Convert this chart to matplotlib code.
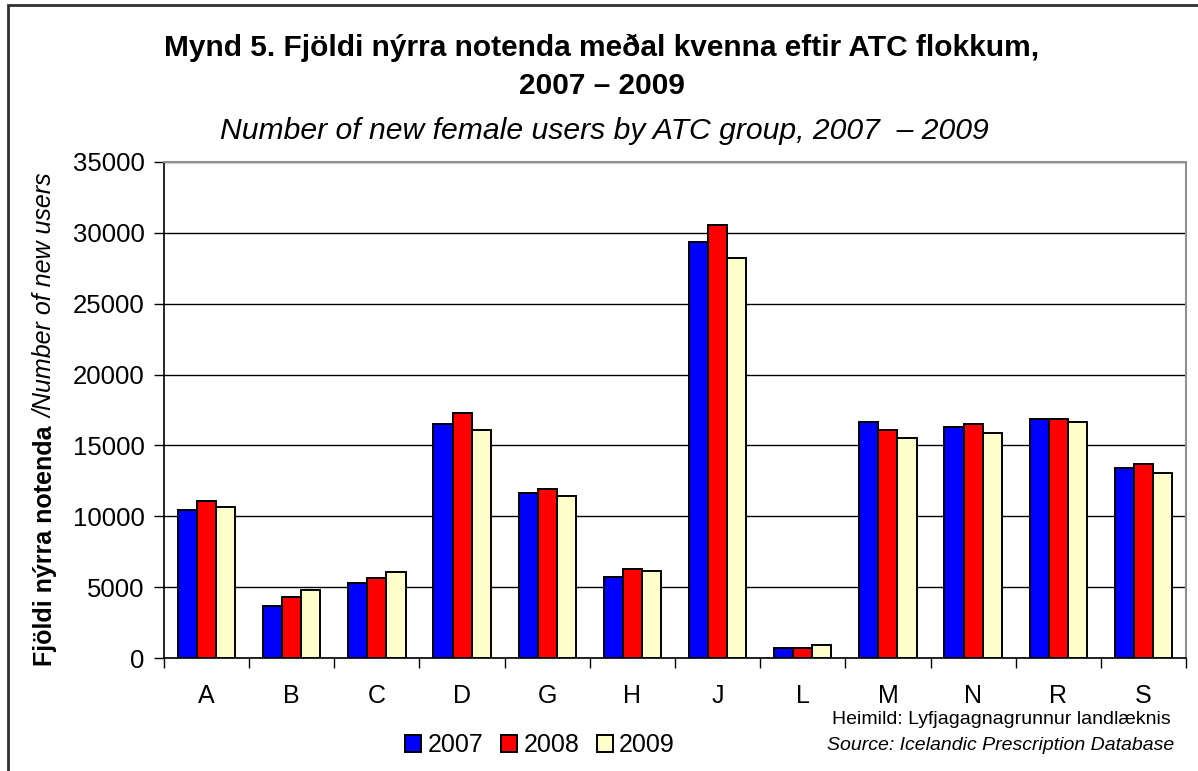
"""Bar chart: new female users by ATC group, 2007-2009."""
import numpy as np
import matplotlib
matplotlib.use("Agg")
import matplotlib.pyplot as plt
from matplotlib.patches import Rectangle

### data
groups = ["A", "B", "C", "D", "G", "H", "J", "L", "M", "N", "R", "S"]
years = ["2007", "2008", "2009"]
users_2007 = [10420, 3670, 5320, 16540, 11620, 5740, 29380, 730, 16650, 16300, 16870, 13390]
users_2008 = [11080, 4330, 5620, 17310, 11950, 6280, 30580, 730, 16090, 16540, 16870, 13690]
users_2009 = [10660, 4780, 6090, 16090, 11410, 6160, 28210, 940, 15550, 15880, 16650, 13060]
yticks = [0, 5000, 10000, 15000, 20000, 25000, 30000, 35000]

colors = ["#0000FF", "#FF0000", "#FFFFCC"]

plt.rcParams["font.family"] = ["Liberation Sans", "DejaVu Sans"]

W, H = 1198, 771
fig = plt.figure(figsize=(W / 100, H / 100), dpi=100)
ax = fig.add_axes([164 / W, 1 - 658 / H, (1186 - 164) / W, (658 - 162) / H])

x = np.arange(len(groups))
bw = 0.225
series = [users_2007, users_2008, users_2009]
for i, (vals, c, lab) in enumerate(zip(series, colors, years)):
    ax.bar(x + (i - 1) * bw, vals, width=bw, color=c, edgecolor="black",
           linewidth=1.4, label=lab, zorder=3)

ax.set_xlim(-0.5, len(groups) - 0.5)
ax.set_ylim(0, 35000)
ax.set_yticks(yticks)
ax.set_yticklabels([str(v) for v in yticks], fontsize=18.5)
ax.yaxis.grid(True, color="black", linewidth=1.0, zorder=0)
ax.set_axisbelow(True)
ax.tick_params(axis="y", direction="out", length=7, width=1, pad=7)

# category labels at centres, tick marks between categories
ax.set_xticks(x)
ax.set_xticklabels(groups, fontsize=18)
ax.tick_params(axis="x", which="major", length=0, pad=19)
ax.set_xticks(np.arange(-0.5, len(groups)), minor=True)
ax.tick_params(axis="x", which="minor", direction="out", length=7, width=1)

for s in ["left", "bottom"]:
    ax.spines[s].set_color("black")
    ax.spines[s].set_linewidth(1.2)
for s in ["top", "right"]:
    ax.spines[s].set_color("#909090")
    ax.spines[s].set_linewidth(1.5)

# titles
fig.text(602 / W, 1 - 48 / H, "Mynd 5. Fjöldi nýrra notenda meðal kvenna eftir ATC flokkum,",
         ha="center", va="center", fontsize=21.5, fontweight="bold")
fig.text(602 / W, 1 - 86 / H, "2007 – 2009",
         ha="center", va="center", fontsize=21.5, fontweight="bold")
fig.text(604 / W, 1 - 131 / H, "Number of new female users by ATC group, 2007  – 2009",
         ha="center", va="center", fontsize=21.7, style="italic")

# y label: bold part + italic part
t1 = fig.text(45 / W, 1 - 666 / H, "Fjöldi nýrra notenda ", rotation=90,
              ha="center", va="bottom", fontsize=18, fontweight="bold")
fig.canvas.draw()
bb = t1.get_window_extent()
fig.text(45 / W, bb.y1 / H, "/Number of new users", rotation=90,
         ha="center", va="bottom", fontsize=18, style="italic")

# legend
leg = fig.legend(loc="center", bbox_to_anchor=(540 / W, 1 - 745 / H), ncol=3,
                 fontsize=18, frameon=False, handlelength=0.65, handleheight=0.65,
                 handletextpad=0.25, columnspacing=0.7)

# source
fig.text(1001 / W, 1 - 719 / H, "Heimild: Lyfjagagnagrunnur landlæknis",
         ha="center", va="center", fontsize=14)
fig.text(1001 / W, 1 - 745 / H, "Source: Icelandic Prescription Database",
         ha="center", va="center", fontsize=14, style="italic")

# outer frame
fig.patches.append(Rectangle((8 / W, -0.05), 1.05, 1.05 - 5 / H,
                             transform=fig.transFigure, fill=False,
                             edgecolor="#303030", linewidth=2))

fig.savefig("out.png", dpi=100)
